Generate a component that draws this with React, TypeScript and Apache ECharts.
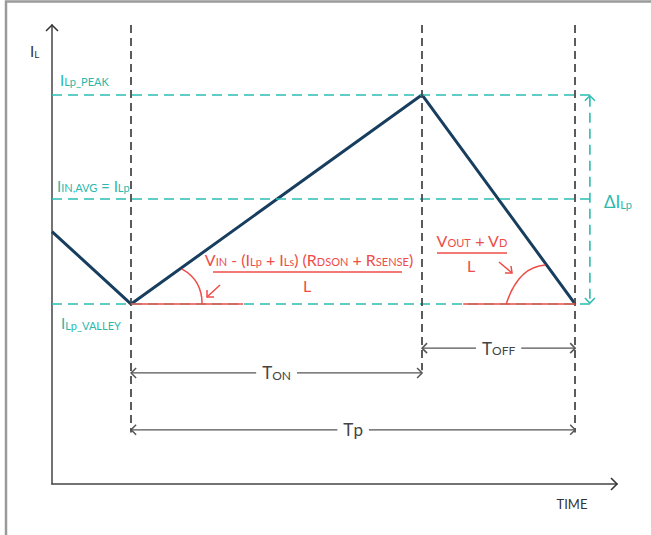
import React, { useEffect, useRef } from "react";
import * as echarts from "echarts";

// Inductor current waveform (time units / current units)
const waveTime = [0, 1.4, 6.55, 9.26];
const waveCurrent = [2.75, 1.96, 4.24, 1.96];

// horizontal reference levels: peak, average, valley
const levelNames = ["peak", "avg", "valley"];
const levelValues = [4.24, 3.11, 1.96];
const levelEnd = 9.52; // end of level lines / ΔI arrow position

// vertical switching instants and where their dashed lines stop
const edgeTimes = [1.4, 6.55, 9.26];
const edgeBottoms = [0.56, 1.24, 0.56];

// dimension arrows: [from, to, level]
const dimBig = ["T", "T", "T"];
const dimSmall = ["OFF", "ON", "p"];
const dimFrom = [6.55, 1.4, 1.4];
const dimTo = [9.26, 6.55, 9.26];
const dimLevel = [1.48, 1.21, 0.59];

const X_MAX = 10;
const Y_MAX = 5;

const TEAL = "#2DBDB2";
const TEAL_TXT = "#2AB7AC";
const RED = "#EE4D47";
const NAVY = "#173E5F";
const DASH_GRAY = "#4a4a4a";
const ARROW_GRAY = "#555555";
const FONT = "Lato, 'Open Sans', sans-serif";

export default function App() {
  const ref = useRef<HTMLDivElement>(null);

  useEffect(() => {
    document.body.style.margin = "0";
    const chart = echarts.init(ref.current!, null, { renderer: "svg" });

    const levelLines = levelValues.map((v) => [
      { coord: [0, v] },
      { coord: [levelEnd, v] },
    ]);
    const edgeLines = edgeTimes.map((t, i) => [
      { coord: [t, Y_MAX] },
      { coord: [t, edgeBottoms[i]] },
    ]);

    chart.setOption({
      animation: false,
      grid: { left: 52, top: 25, width: 565, height: 459, containLabel: false },
      xAxis: {
        type: "value",
        min: 0,
        max: X_MAX,
        axisLine: { show: true, onZero: false, lineStyle: { color: "#444", width: 1.5 } },
        axisTick: { show: false },
        axisLabel: { show: false },
        splitLine: { show: false },
      },
      yAxis: {
        type: "value",
        min: 0,
        max: Y_MAX,
        axisLine: { show: true, onZero: false, lineStyle: { color: "#444", width: 1.5 } },
        axisTick: { show: false },
        axisLabel: { show: false },
        splitLine: { show: false },
      },
      series: [
        {
          type: "line",
          z: 1,
          data: [],
          silent: true,
          markLine: {
            silent: true,
            symbol: ["none", "none"],
            label: { show: false },
            data: [
              ...levelLines.map((d) => [
                { ...d[0], lineStyle: { color: TEAL, width: 1.6, type: [10, 6] } },
                d[1],
              ]),
              ...edgeLines.map((d) => [
                { ...d[0], lineStyle: { color: DASH_GRAY, width: 1.8, type: [8, 5] } },
                d[1],
              ]),
            ],
          },
        },
        {
          type: "line",
          z: 3,
          symbol: "none",
          silent: true,
          lineStyle: { color: NAVY, width: 3 },
          data: waveTime.map((t, i) => [t, waveCurrent[i]]),
        },
      ],
    });

    const px = (x: number, y: number) =>
      chart.convertToPixel({ gridIndex: 0 }, [x, y]) as number[];

    const g: any[] = [];
    const line = (pts: number[][], color: string, width: number, dash?: number[]) =>
      g.push({
        type: "polyline",
        silent: true,
        z: 10,
        shape: { points: pts },
        style: { stroke: color, lineWidth: width, fill: null, lineDash: dash },
      });
    const chevron = (tip: number[], dir: "l" | "r" | "u" | "d", color: string, s = 5) => {
      const [x, y] = tip;
      let pts: number[][] = [];
      if (dir === "l") pts = [[x + s, y - s], [x, y], [x + s, y + s]];
      if (dir === "r") pts = [[x - s, y - s], [x, y], [x - s, y + s]];
      if (dir === "u") pts = [[x - s, y + s], [x, y], [x + s, y + s]];
      if (dir === "d") pts = [[x - s, y - s], [x, y], [x + s, y - s]];
      line(pts, color, 1.5);
    };
    const text = (x: number, y: number, t: string, rich: any, align = "left", extra: any = {}) =>
      g.push({
        type: "text",
        silent: true,
        z: 20,
        x,
        y,
        style: {
          text: t,
          align,
          verticalAlign: "middle",
          rich,
          ...extra,
        },
      });
    const rs = (size: number, color: string) => ({
      fontSize: size,
      fontFamily: FONT,
      fill: color,
      color,
      verticalAlign: "bottom",
    });

    // frame
    line([[6, 535], [6, 1.5], [651, 1.5]], "#9a9a9a", 2.5);

    // axis arrowheads
    const origin = px(0, 0);
    const yTop = px(0, Y_MAX);
    const xEnd = px(X_MAX, 0);
    chevron(yTop, "u", "#333", 6);
    chevron(xEnd, "r", "#333", 6);

    // ΔI arrow
    const dTop = px(levelEnd, levelValues[0]);
    const dBot = px(levelEnd, levelValues[2]);
    line([[dTop[0], dTop[1] + 2], [dBot[0], dBot[1] - 2]], TEAL, 1.6, [10, 6]);
    chevron([dTop[0], dTop[1] + 1], "u", TEAL, 5);
    chevron([dBot[0], dBot[1] - 1], "d", TEAL, 5);

    // dimension arrows
    dimBig.forEach((big, i) => {
      const a = px(dimFrom[i], dimLevel[i]);
      const b = px(dimTo[i], dimLevel[i]);
      line([a, b], ARROW_GRAY, 1.2);
      chevron(a, "l", ARROW_GRAY, 5);
      chevron(b, "r", ARROW_GRAY, 5);
      const small = dimSmall[i];
      const smallSize = small === small.toLowerCase() ? 17 : 12;
      text((a[0] + b[0]) / 2, a[1], `{b|${big}}{s|${small}}`, {
        b: rs(17, "#444"),
        s: rs(smallSize, "#444"),
      }, "center", { backgroundColor: "#fff", padding: [0, 6] });
    });

    // slope angle marks
    const v1 = px(waveTime[1], waveCurrent[1]);
    const v2 = px(waveTime[3], waveCurrent[3]);
    line([v1, [v1[0] + 112, v1[1]]], RED, 1.5);
    line([[v2[0] - 112, v2[1]], v2], RED, 1.5);
    g.push({
      type: "bezierCurve",
      silent: true,
      z: 10,
      shape: { x1: v1[0] + 71, y1: v1[1], cpx1: v1[0] + 71, cpy1: v1[1] - 24, x2: v1[0] + 51, y2: v1[1] - 35 },
      style: { stroke: RED, lineWidth: 1.5, fill: null },
    });
    g.push({
      type: "bezierCurve",
      silent: true,
      z: 10,
      shape: { x1: v2[0] - 69, y1: v2[1], cpx1: v2[0] - 57, cpy1: v2[1] - 37, x2: v2[0] - 30, y2: v2[1] - 39 },
      style: { stroke: RED, lineWidth: 1.5, fill: null },
    });
    // small pointer arrows
    line([[220, 285], [207, 297]], RED, 1.5);
    line([[207, 290], [207, 297], [214, 297]], RED, 1.5);
    line([[499, 262], [512, 273]], RED, 1.5);
    line([[505, 273], [512, 273], [511, 266]], RED, 1.5);

    // formula 1
    const redRich = { b: rs(16, RED), s: rs(11, RED) };
    text(
      309,
      259,
      "{b|V}{s|IN}{b| - (I}{s|Lp}{b| + I}{s|Ls}{b|) (R}{s|DSON}{b| + R}{s|SENSE}{b|)}",
      redRich,
      "center"
    );
    line([[213, 272], [402, 272]], RED, 1.5);
    text(307, 285, "{b|L}", redRich, "center");

    // formula 2
    text(472, 240, "{b|V}{s|OUT}{b| + V}{s|D}", redRich, "center");
    line([[437, 253], [507, 253]], RED, 1.5);
    text(471, 265, "{b|L}", redRich, "center");

    // level labels
    const tealRich = { b: rs(15, TEAL_TXT), s: rs(11, TEAL_TXT) };
    const pk = px(0, levelValues[0]);
    const av = px(0, levelValues[1]);
    const va = px(0, levelValues[2]);
    text(pk[0] + 8, pk[1] - 15, "{b|I}{s|Lp_PEAK}", tealRich);
    text(av[0] + 5, av[1] - 13, "{b|I}{s|IN,AVG}{b| = I}{s|Lp}", tealRich);
    text(va[0] + 9, va[1] + 19, "{b|I}{s|Lp_VALLEY}", tealRich);

    // ΔI label
    text(dTop[0] + 14, (dTop[1] + dBot[1]) / 2 + 2, "{b|ΔI}{s|Lp}", {
      b: rs(17, TEAL_TXT),
      s: rs(11, TEAL_TXT),
    });

    // axis labels
    text(origin[0] - 22, 51, "{b|I}{s|L}", { b: rs(15, "#333"), s: rs(10, "#333") });
    text(572, 504, "{b|TIME}", { b: rs(13, "#333") }, "center");

    chart.setOption({ graphic: g });

    return () => chart.dispose();
  }, []);

  return <div ref={ref} style={{ width: 651, height: 535 }} />;
}
